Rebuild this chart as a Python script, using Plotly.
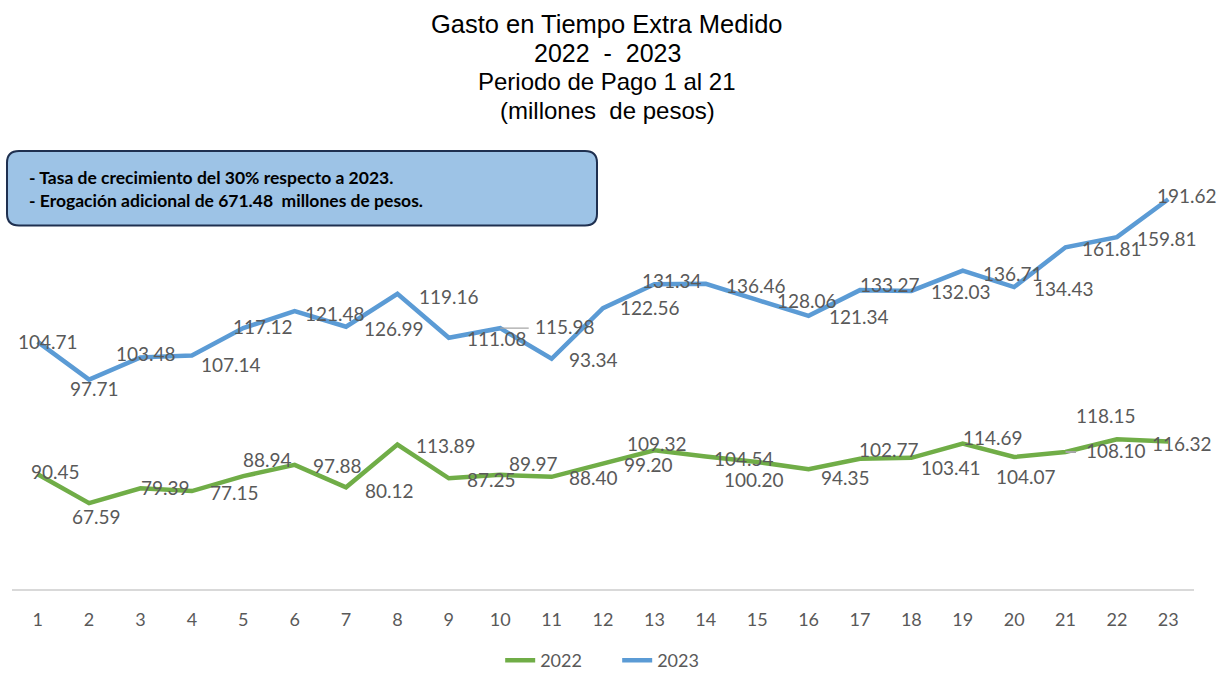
import plotly.graph_objects as go

# periodos de pago
periodos = list(range(1, 24))

# gasto en tiempo extra (millones de pesos)
gasto_2022 = [90.45, 67.59, 79.39, 77.15, 88.94, 97.88, 80.12, 113.89, 87.25, 89.97, 88.40, 99.20,
              109.32, 104.54, 100.20, 94.35, 102.77, 103.41, 114.69, 104.07, 108.10, 118.15, 116.32]
gasto_2023 = [104.71, 97.71, 103.48, 107.14, 117.12, 121.48, 126.99, 119.16, 111.08, 115.98, 93.34, 122.56,
              131.34, 136.46, 128.06, 121.34, 133.27, 132.03, 136.71, 134.43, 161.81, 159.81, 191.62]

titulo = ["Gasto en Tiempo Extra Medido", "2022  -  2023", "Periodo de Pago 1 al 21", "(millones  de pesos)"]
nota = "- Tasa de crecimiento del 30% respecto a 2023.<br>- Erogación adicional de 671.48  millones de pesos."

# desplazamiento de cada etiqueta respecto a su punto (px, y hacia abajo)
offs_2022 = [(18, -3), (7, 13), (25, -1), (43, 1), (24, -17), (43, 1), (43, 3), (49, 1), (43, 1), (33, -11),
             (42, 1), (45, 1), (3, -7), (38, 2), (-3, 18), (37, 8), (29, -9), (40, 10), (30, -6), (12, 19),
             (50, -1), (-11, -24), (14, 2)]
offs_2023 = [(10, 0), (5, 9), (6, -4), (39, 9), (20, -2), (40, 2), (48, 2), (52, 3), (48, 1), (65, -2),
             (42, 1), (47, -1), (18, -4), (50, 2), (50, 1), (50, 1), (30, -6), (50, 1), (50, 3), (50, 1),
             (46, 1), (50, 1), (19, -4)]

VERDE = "#70AD47"
AZUL = "#5B9BD5"
GRIS = "#595959"

# area de trazado en pixeles
PL, PR, PT, PB = 12, 1194, 146, 597


def px_x(p):
    return (p - PL) / (PR - PL)


def px_y(p):
    return (PB - p) / (PB - PT)


fig = go.Figure()
fig.add_trace(go.Scatter(x=periodos, y=gasto_2022, name="2022", mode="lines", stackgroup="uno", fill="none",
                         line=dict(color=VERDE, width=4.5)))
fig.add_trace(go.Scatter(x=periodos, y=gasto_2023, name="2023", mode="lines", stackgroup="uno", fill="none",
                         line=dict(color=AZUL, width=4.5)))

etiquetas = []
for i, p in enumerate(periodos):
    dx, dy = offs_2022[i]
    etiquetas.append(dict(x=p, y=gasto_2022[i], text=f"{gasto_2022[i]:.2f}", showarrow=False,
                          xshift=dx, yshift=-dy, font=dict(family="Lato", size=19, color=GRIS)))
    dx, dy = offs_2023[i]
    etiquetas.append(dict(x=p, y=gasto_2022[i] + gasto_2023[i], text=f"{gasto_2023[i]:.2f}", showarrow=False,
                          xshift=dx, yshift=-dy, font=dict(family="Lato", size=19, color=GRIS)))

# lineas guia cortas
etiquetas.append(dict(x=10, y=gasto_2022[9] + gasto_2023[9], ax=30, ay=0, axref="pixel", ayref="pixel",
                      text="", showarrow=True, arrowhead=0, arrowwidth=1.2, arrowcolor="#A6A6A6"))
etiquetas.append(dict(x=21, y=gasto_2022[20], ax=12, ay=0, axref="pixel", ayref="pixel",
                      text="", showarrow=True, arrowhead=0, arrowwidth=2, arrowcolor="#A6A6A6"))

# titulo, una anotacion por renglon
for linea, yc, tam in zip(titulo, [22, 51, 80, 110], [25.5, 25, 24, 24]):
    etiquetas.append(dict(xref="paper", yref="paper", x=px_x(607), y=px_y(yc), xanchor="center",
                          yanchor="middle", text=linea, showarrow=False,
                          font=dict(family="Liberation Sans", size=tam, color="black")))

# recuadro con la nota
etiquetas.append(dict(xref="paper", yref="paper", x=px_x(27), y=px_y(190), xanchor="left", yanchor="middle",
                      text=nota, align="left", showarrow=False,
                      font=dict(family="Lato", size=17.5, color="black", weight="bold")))

x0, x1 = px_x(7), px_x(597)
y0, y1 = px_y(227), px_y(151)
rx, ry = 12 / (PR - PL), 12 / (PB - PT)
ruta = (f"M {x0+rx},{y1} L {x1-rx},{y1} Q {x1},{y1} {x1},{y1-ry} L {x1},{y0+ry} Q {x1},{y0} {x1-rx},{y0} "
        f"L {x0+rx},{y0} Q {x0},{y0} {x0},{y0+ry} L {x0},{y1-ry} Q {x0},{y1} {x0+rx},{y1} Z")

fig.update_layout(
    width=1222, height=679, autosize=False,
    margin=dict(l=PL, r=1222 - PR, t=PT, b=679 - PB),
    paper_bgcolor="white", plot_bgcolor="white",
    xaxis=dict(range=[0.5, 23.5], tickmode="array", tickvals=periodos, showgrid=False, zeroline=False,
               showline=True, linecolor="#D9D9D9", linewidth=1.5, ticks="", ticklabelstandoff=14,
               tickfont=dict(family="Lato", size=18, color=GRIS)),
    yaxis=dict(range=[0, 350], visible=False, showgrid=False, zeroline=False),
    showlegend=True,
    legend=dict(orientation="h", x=0.512, xanchor="center", yref="container", y=0, yanchor="bottom",
                traceorder="normal", entrywidth=72, font=dict(family="Lato", size=18, color=GRIS)),
    annotations=etiquetas,
    shapes=[dict(type="path", xref="paper", yref="paper", path=ruta, fillcolor="#9DC3E6",
                 line=dict(color="#1F3050", width=2), layer="below")],
    hovermode=False,
)

fig.write_html("out.html", config={"displayModeBar": False},
               post_script="document.body.style.margin='0';")
